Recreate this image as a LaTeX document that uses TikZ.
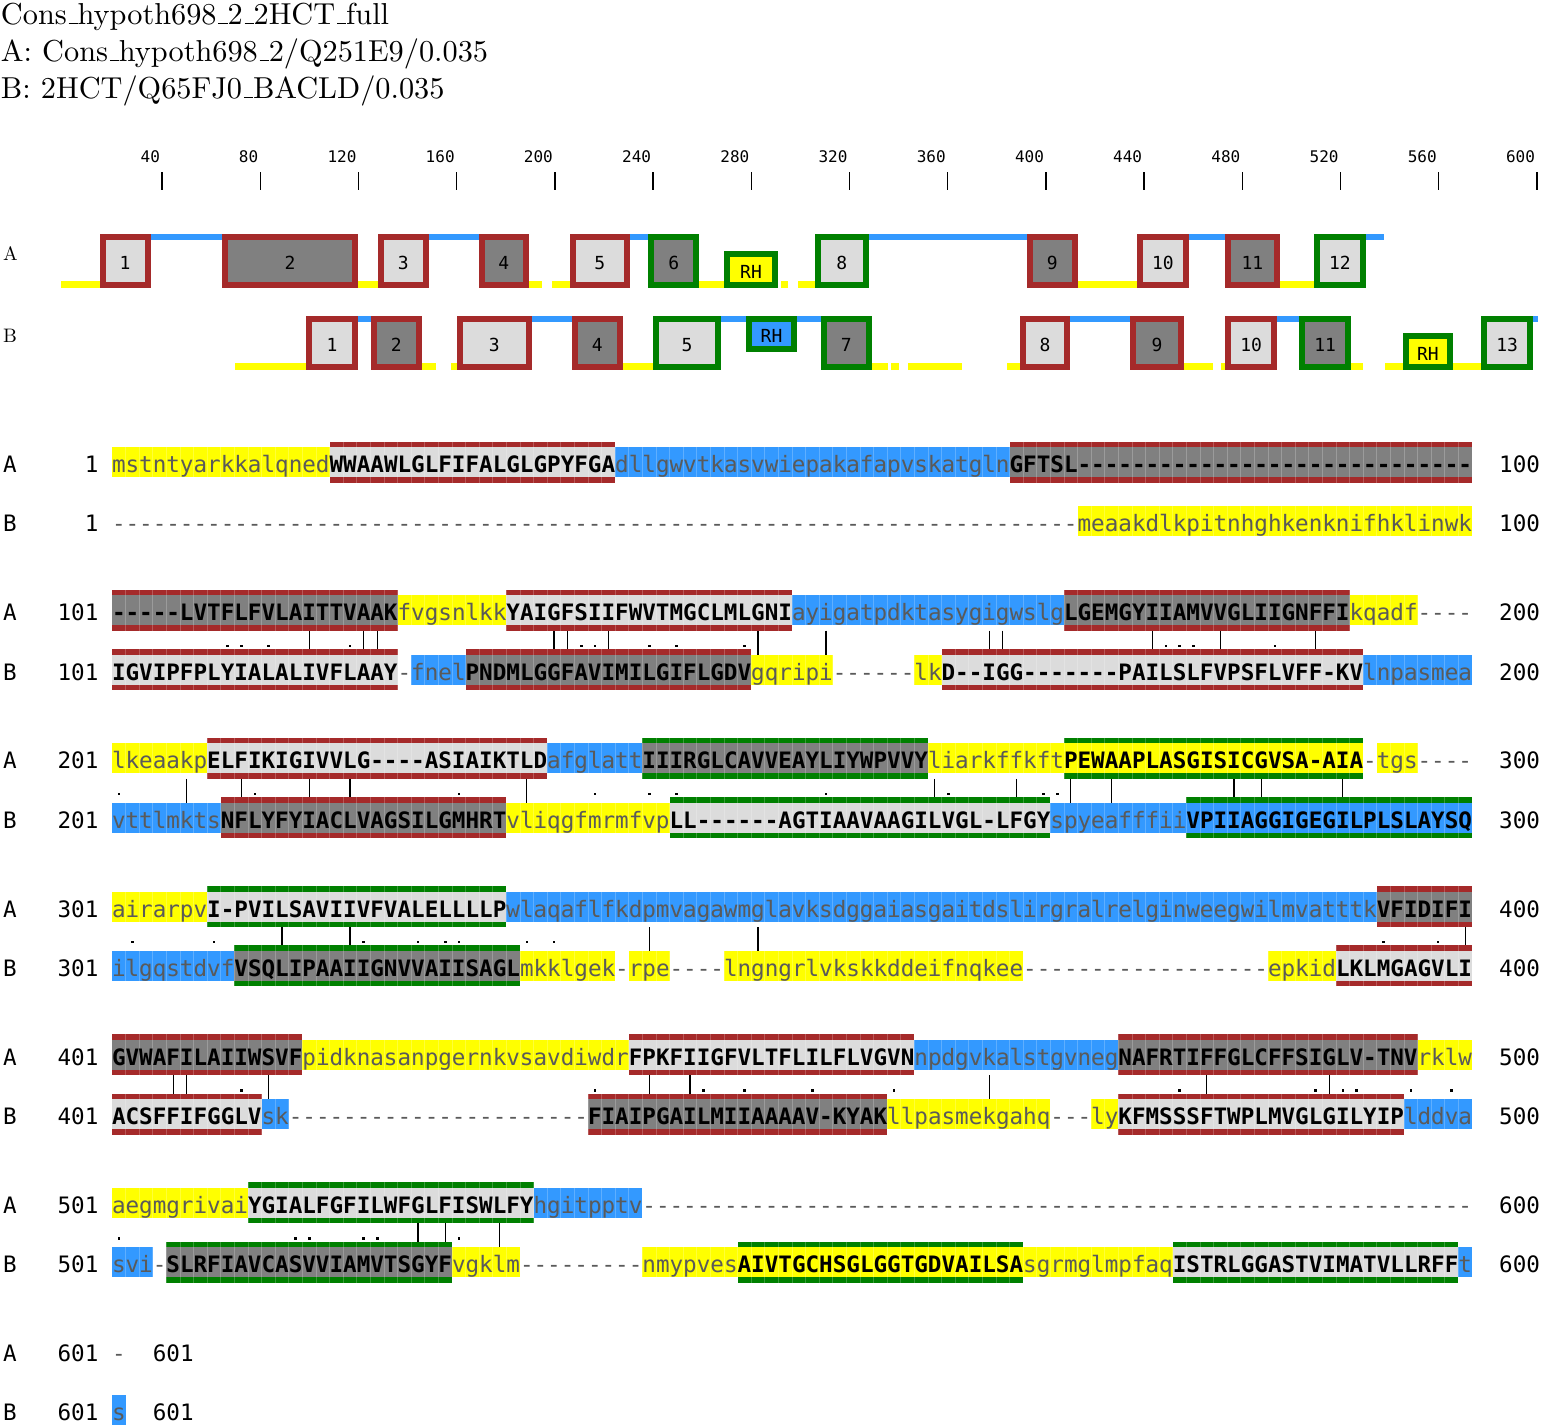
\documentclass[tikz,border=0pt]{standalone}
\usepackage{fontspec}
\newfontfamily\sqf{DejaVu Sans Mono}[Ligatures=TeXOff]
\newfontfamily\ttlf{lmroman10-regular.otf}
\definecolor{yel}{RGB}{255,255,0}
\definecolor{blu}{RGB}{51,153,255}
\definecolor{frred}{RGB}{165,42,42}
\definecolor{frgrn}{RGB}{0,128,0}
\definecolor{lgry}{RGB}{220,220,220}
\definecolor{dgry}{RGB}{128,128,128}
\definecolor{txg}{RGB}{90,90,90}
\pgfdeclarelayer{conn}
\pgfdeclarelayer{bg}
\pgfsetlayers{conn,bg,main}
\ExplSyntaxOn
\cs_new:Npn \rptdash #1 {\prg_replicate:nn{#1}{-}}
\ExplSyntaxOff
\newcommand\us{\leavevmode\kern.06em\vbox{\hrule width.3em height 1.2pt}}
\newcounter{nid}
\tikzset{
 ttl/.style={inner sep=0,outer sep=0,anchor=base west,font=\ttlf\fontsize{30.3}{36}\selectfont},
 schl/.style={inner sep=0,outer sep=0,anchor=base west,font=\ttlf\fontsize{19.5}{24}\selectfont},
 rlab/.style={inner sep=0,outer sep=0,anchor=base east,font=\sqf\fontsize{16}{18}\selectfont},
 boxlbl/.style={inner sep=0,outer sep=0,anchor=base,font=\sqf\fontsize{18}{20}\selectfont},
 lct/.style={inner sep=0,outer sep=0,anchor=base west,text=txg,font=\sqf\fontsize{22.59}{26}\selectfont},
 uct/.style={inner sep=0,outer sep=0,anchor=base west,text=black,font=\sqf\bfseries\fontsize{22.59}{26}\selectfont},
 numt/.style={inner sep=0,outer sep=0,text=black,font=\sqf\fontsize{22.59}{26}\selectfont},
 gridl/.style={white,opacity=.22,line width=.8pt},
 idline/.style={black,line width=1.3pt},
}
\newcommand\cxl[1]{112+(#1-1)*13.6}
\newcommand\cxr[1]{112+#1*13.6}
% loop segments and TM segments
\newcommand\sqY[4]{%
 \begin{pgfonlayer}{bg}\fill[yel] ({\cxl{#2}},{#1-15}) rectangle ({\cxr{#3}},{#1+15});\end{pgfonlayer}%
 \stepcounter{nid}\node[lct] (n\thenid) at ({\cxl{#2}},{#1+10.5}) {#4};}
\newcommand\sqB[4]{%
 \begin{pgfonlayer}{bg}\fill[blu] ({\cxl{#2}},{#1-15}) rectangle ({\cxr{#3}},{#1+15});\end{pgfonlayer}%
 \stepcounter{nid}\node[lct] (n\thenid) at ({\cxl{#2}},{#1+10.5}) {#4};}
\newcommand\sqG[4]{%
 \stepcounter{nid}\node[lct] (n\thenid) at ({\cxl{#2}},{#1+10.5}) {#4};}
\newcommand\sqT[6]{%
 \begin{pgfonlayer}{bg}
 \fill[#5] ({\cxl{#2}},{#1-15}) rectangle ({\cxr{#3}},{#1+15});
 \fill[#4] ({\cxl{#2}},{#1-20.5}) rectangle ({\cxr{#3}},{#1-15});
 \fill[#4] ({\cxl{#2}},{#1+15}) rectangle ({\cxr{#3}},{#1+20.5});
 \end{pgfonlayer}%
 \stepcounter{nid}\node[uct] (n\thenid) at ({\cxl{#2}},{#1+10.5}) {#6};}
\newcommand\gridrow[1]{%
 \begin{pgfonlayer}{bg}
 \foreach \i in {1,...,99} {\draw[gridl] ({112+\i*13.6},{#1-20.5}) -- ++(0,41);}
 \end{pgfonlayer}}
\newcommand\rowlab[5]{%
 \stepcounter{nid}\node[numt,anchor=base west] (n\thenid) at (3,{#1+10.5}) {#2};
 \stepcounter{nid}\node[numt,anchor=base east] (n\thenid) at (98.4,{#1+10.5}) {#3};
 \stepcounter{nid}\node[numt,anchor=base west] (n\thenid) at (#5,{#1+10.5}) {#4};}
\newcommand\conn[4]{% yA, yB, identity cols, similar cols
 \begin{pgfonlayer}{conn}
 \foreach \c in {#3} {\draw[idline] ({112+(\c-0.5)*13.6},{#1+20.5}) -- ({112+(\c-0.5)*13.6},{#2-15});}
 \foreach \c in {#4} {\fill ({112+(\c-0.5)*13.6-1.3},{#2-25}) rectangle ++(2.6,2.6);}
 \end{pgfonlayer}}
% schematic
\newcommand\schy[3]{\fill[yel] (#1,{#3-7}) rectangle (#2,#3);}
\newcommand\schb[3]{\fill[blu] (#1,#3) rectangle (#2,{#3+6.5});}
\newcommand\schbox[7]{%
 \draw[line width=6pt,draw=#5,fill=#6] ({#1+3},{#3+3}) rectangle ({#2-3},{#4-3});
 \stepcounter{nid}\node[boxlbl] (n\thenid) at ({(#1+#2)/2},{(#3+#4)/2+9}) {#7};}

\begin{document}
\begin{tikzpicture}[x=1pt,y=-1pt]
\useasboundingbox (0,0) rectangle (1542,1425);
% title
\node[ttl] (t1) at (1,24) {Cons\us hypoth698\us 2\us 2HCT\us full};
\node[ttl] (t2) at (1,61) {A: Cons\us hypoth698\us 2/Q251E9/0.035};
\node[ttl] (t3) at (1,98) {B: 2HCT/Q65FJ0\us BACLD/0.035};
% ruler
\foreach \i in {1,...,15} {
 \pgfmathsetmacro\tx{162+(\i-1)*98.21}
 \pgfmathtruncatemacro\lab{40*\i}
 \draw[line width=1.4pt] (\tx,172) -- (\tx,190);
 \node[rlab] (r\i) at ({\tx-2},162) {\lab};
}
% schematic labels
\node[schl] (la) at (3,260) {A};
\node[schl] (lb) at (3,342) {B};
% schematic row A
\foreach \a/\b in {60.7/99.5,357.6/378,529.2/542.2,552/569.5,699.4/723.7,780.8/788.2,798/815.3,1077.7/1137.3,1279.5/1314} {\schy{\a}{\b}{287.5}}
\foreach \a/\b in {150.7/222.3,428.8/478.5,630.2/648,868.5/1027,1188.5/1225.4,1365.7/1384.4} {\schb{\a}{\b}{233.5}}
\schbox{99.5}{150.7}{233.5}{287.5}{frred}{lgry}{1}
\schbox{222.3}{357.6}{233.5}{287.5}{frred}{dgry}{2}
\schbox{378}{428.8}{233.5}{287.5}{frred}{lgry}{3}
\schbox{478.5}{529.2}{233.5}{287.5}{frred}{dgry}{4}
\schbox{569.5}{630.2}{233.5}{287.5}{frred}{lgry}{5}
\schbox{648}{699.4}{233.5}{287.5}{frgrn}{dgry}{6}
\schbox{723.7}{778.4}{251}{287.5}{frgrn}{yel}{RH}
\schbox{815.3}{868.5}{233.5}{287.5}{frgrn}{lgry}{8}
\schbox{1027}{1077.7}{233.5}{287.5}{frred}{dgry}{9}
\schbox{1137.3}{1188.5}{233.5}{287.5}{frred}{lgry}{10}
\schbox{1225.4}{1279.5}{233.5}{287.5}{frred}{dgry}{11}
\schbox{1314}{1365.7}{233.5}{287.5}{frgrn}{lgry}{12}
% schematic row B
\foreach \a/\b in {234.8/305.9,421.8/436.2,451/456.6,622.8/653,871.9/888,891/899,907.8/962,1007.3/1019.6,1183.5/1213,1220.5/1225.4,1351/1363.2,1385.4/1402.6,1453.3/1481.4} {\schy{\a}{\b}{369.5}}
\foreach \a/\b in {358.1/370.6,532.2/572,721.2/746,797/820.7,1070.3/1130.4,1277/1299.2,1533/1538} {\schb{\a}{\b}{315.5}}
\schbox{305.9}{358.1}{315.5}{369.5}{frred}{lgry}{1}
\schbox{370.6}{421.8}{315.5}{369.5}{frred}{dgry}{2}
\schbox{456.6}{532.2}{315.5}{369.5}{frred}{lgry}{3}
\schbox{572}{622.8}{315.5}{369.5}{frred}{dgry}{4}
\schbox{653}{721.2}{315.5}{369.5}{frgrn}{lgry}{5}
\schbox{746}{797}{315.5}{352}{frgrn}{blu}{RH}
\schbox{820.7}{871.9}{315.5}{369.5}{frgrn}{dgry}{7}
\schbox{1019.6}{1070.3}{315.5}{369.5}{frred}{lgry}{8}
\schbox{1130.4}{1183.5}{315.5}{369.5}{frred}{dgry}{9}
\schbox{1225.4}{1277}{315.5}{369.5}{frred}{lgry}{10}
\schbox{1299.2}{1351}{315.5}{369.5}{frgrn}{dgry}{11}
\schbox{1402.6}{1453.3}{333}{369.5}{frgrn}{yel}{RH}
\schbox{1481.4}{1533}{315.5}{369.5}{frgrn}{lgry}{13}

% ===== block 1
\rowlab{462}{A}{1}{100}{1499.2}
\sqY{462}{1}{16}{mstntyarkkalqned}
\sqT{462}{17}{37}{frred}{lgry}{WWAAWLGLFIFALGLGPYFGA}
\sqB{462}{38}{66}{dllgwvtkasvwiepakafapvskatgln}
\sqT{462}{67}{100}{frred}{dgry}{GFTSL\rptdash{29}}
\gridrow{462}
\rowlab{521.3}{B}{1}{100}{1499.2}
\sqG{521.3}{1}{71}{\rptdash{71}}
\sqY{521.3}{72}{100}{meaakdlkpitnhghkenknifhklinwk}
\gridrow{521.3}

% ===== block 101
\rowlab{610.2}{A}{101}{200}{1499.2}
\sqT{610.2}{1}{21}{frred}{dgry}{-----LVTFLFVLAITTVAAK}
\sqY{610.2}{22}{29}{fvgsnlkk}
\sqT{610.2}{30}{50}{frred}{lgry}{YAIGFSIIFWVTMGCLMLGNI}
\sqB{610.2}{51}{70}{ayigatpdktasygigwslg}
\sqT{610.2}{71}{91}{frred}{dgry}{LGEMGYIIAMVVGLIIGNFFI}
\sqY{610.2}{92}{96}{kqadf}
\sqG{610.2}{97}{100}{----}
\gridrow{610.2}
\rowlab{669.5}{B}{101}{200}{1499.2}
\sqT{669.5}{1}{21}{frred}{lgry}{IGVIPFPLYIALALIVFLAAY}
\sqG{669.5}{22}{22}{-}
\sqB{669.5}{23}{26}{fnel}
\sqT{669.5}{27}{47}{frred}{dgry}{PNDMLGGFAVIMILGIFLGDV}
\sqY{669.5}{48}{53}{gqripi}
\sqG{669.5}{54}{59}{------}
\sqY{669.5}{60}{61}{lk}
\sqT{669.5}{62}{92}{frred}{lgry}{D--IGG-------PAILSLFVPSFLVFF-KV}
\sqB{669.5}{93}{100}{lnpasmea}
\gridrow{669.5}
\conn{610.2}{669.5}{15,19,20,33,34,37,48,53,65,66,77,82,89}{9,10,12,18,35,36,40,42,47,78,79,80,86}

% ===== block 201
\rowlab{758.3}{A}{201}{300}{1499.2}
\sqY{758.3}{1}{7}{lkeaakp}
\sqT{758.3}{8}{32}{frred}{lgry}{ELFIKIGIVVLG----ASIAIKTLD}
\sqB{758.3}{33}{39}{afglatt}
\sqT{758.3}{40}{60}{frgrn}{dgry}{IIIRGLCAVVEAYLIYWPVVY}
\sqY{758.3}{61}{70}{liarkffkft}
\sqT{758.3}{71}{92}{frgrn}{yel}{PEWAAPLASGISICGVSA-AIA}
\sqG{758.3}{93}{93}{-}
\sqY{758.3}{94}{96}{tgs}
\sqG{758.3}{97}{100}{----}
\gridrow{758.3}
\rowlab{817.6}{B}{201}{300}{1499.2}
\sqB{817.6}{1}{8}{vttlmkts}
\sqT{817.6}{9}{29}{frred}{dgry}{NFLYFYIACLVAGSILGMHRT}
\sqY{817.6}{30}{41}{vliqgfmrmfvp}
\sqT{817.6}{42}{69}{frgrn}{lgry}{LL------AGTIAAVAAGILVGL-LFGY}
\sqB{817.6}{70}{79}{spyeafffii}
\sqT{817.6}{80}{100}{frgrn}{blu}{VPIIAGGIGEGILPLSLAYSQ}
\gridrow{817.6}
\conn{758.3}{817.6}{6,10,15,18,31,61,67,71,74,83,85,91}{1,11,26,36,40,42,53,62,69,70}

% ===== block 301
\rowlab{906.5}{A}{301}{400}{1499.2}
\sqY{906.5}{1}{7}{airarpv}
\sqT{906.5}{8}{29}{frgrn}{lgry}{I-PVILSAVIIVFVALELLLLP}
\sqB{906.5}{30}{93}{wlaqaflfkdpmvagawmglavksdggaiasgaitdslirgralrelginweegwilmvatttk}
\sqT{906.5}{94}{100}{frred}{dgry}{VFIDIFI}
\gridrow{906.5}
\rowlab{965.8}{B}{301}{400}{1499.2}
\sqB{965.8}{1}{9}{ilgqstdvf}
\sqT{965.8}{10}{30}{frgrn}{dgry}{VSQLIPAAIIGNVVAIISAGL}
\sqY{965.8}{31}{37}{mkklgek}
\sqG{965.8}{38}{38}{-}
\sqY{965.8}{39}{41}{rpe}
\sqG{965.8}{42}{45}{----}
\sqY{965.8}{46}{67}{lngngrlvkskkddeifnqkee}
\sqG{965.8}{68}{85}{\rptdash{18}}
\sqY{965.8}{86}{90}{epkid}
\sqT{965.8}{91}{100}{frred}{lgry}{LKLMGAGVLI}
\gridrow{965.8}
\conn{906.5}{965.8}{13,18,40,48,100}{2,8,19,23,25,26,31,33,94,98}

% ===== block 401
\rowlab{1054.7}{A}{401}{500}{1499.2}
\sqT{1054.7}{1}{14}{frred}{dgry}{GVWAFILAIIWSVF}
\sqY{1054.7}{15}{38}{pidknasanpgernkvsavdiwdr}
\sqT{1054.7}{39}{59}{frred}{lgry}{FPKFIIGFVLTFLILFLVGVN}
\sqB{1054.7}{60}{74}{npdgvkalstgvneg}
\sqT{1054.7}{75}{96}{frred}{dgry}{NAFRTIFFGLCFFSIGLV-TNV}
\sqY{1054.7}{97}{100}{rklw}
\gridrow{1054.7}
\rowlab{1114}{B}{401}{500}{1499.2}
\sqT{1114}{1}{11}{frred}{lgry}{ACSFFIFGGLV}
\sqB{1114}{12}{13}{sk}
\sqG{1114}{14}{35}{\rptdash{22}}
\sqT{1114}{36}{57}{frred}{dgry}{FIAIPGAILMIIAAAAV-KYAK}
\sqY{1114}{58}{69}{llpasmekgahq}
\sqG{1114}{70}{72}{---}
\sqY{1114}{73}{74}{ly}
\sqT{1114}{75}{95}{frred}{lgry}{KFMSSSFTWPLMVGLGILYIP}
\sqB{1114}{96}{100}{lddva}
\gridrow{1114}
\conn{1054.7}{1114}{5,6,12,40,43,65,81,90}{10,36,44,47,52,58,79,89,91,92,96,99}

% ===== block 501
\rowlab{1202.9}{A}{501}{600}{1499.2}
\sqY{1202.9}{1}{10}{aegmgrivai}
\sqT{1202.9}{11}{31}{frgrn}{lgry}{YGIALFGFILWFGLFISWLFY}
\sqB{1202.9}{32}{39}{hgitpptv}
\sqG{1202.9}{40}{100}{\rptdash{61}}
\gridrow{1202.9}
\rowlab{1262.2}{B}{501}{600}{1499.2}
\sqB{1262.2}{1}{3}{svi}
\sqG{1262.2}{4}{4}{-}
\sqT{1262.2}{5}{25}{frgrn}{dgry}{SLRFIAVCASVVIAMVTSGYF}
\sqY{1262.2}{26}{30}{vgklm}
\sqG{1262.2}{31}{39}{\rptdash{9}}
\sqY{1262.2}{40}{46}{nmypves}
\sqT{1262.2}{47}{67}{frgrn}{yel}{AIVTGCHSGLGGTGDVAILSA}
\sqY{1262.2}{68}{78}{sgrmglmpfaq}
\sqT{1262.2}{79}{99}{frgrn}{lgry}{ISTRLGGASTVIMATVLLRFF}
\sqB{1262.2}{100}{100}{t}
\gridrow{1262.2}
\conn{1202.9}{1262.2}{23,25,29}{1,14,15,19,20,26}

% ===== block 601
\rowlab{1351}{A}{601}{601}{152.8}
\sqG{1351}{1}{1}{-}
\rowlab{1410.3}{B}{601}{601}{152.8}
\sqB{1410.3}{1}{1}{s}
\end{tikzpicture}
\end{document}
